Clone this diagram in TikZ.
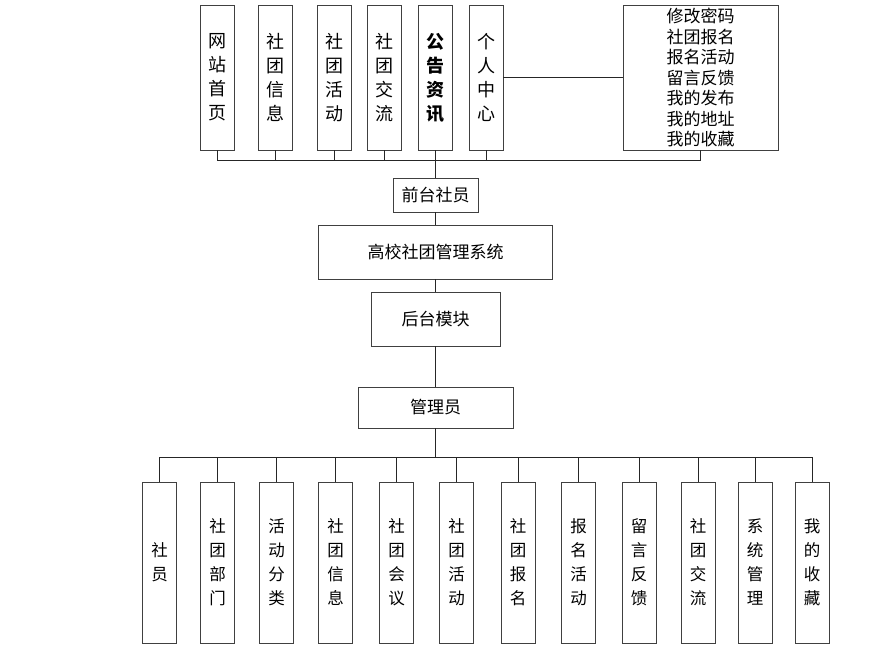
\documentclass[tikz,border=0pt]{standalone}
\usepackage{fontspec}
\newfontfamily\cjk{Noto Sans CJK SC}
\usepackage{tikz}

\tikzset{
  box/.style={draw=black!75, line width=0.8pt, fill=white, inner sep=0pt, align=center},
  vbox/.style={box, minimum width=34pt, text width=34pt,
    font=\cjk\fontsize{16.5}{24}\selectfont},
  link/.style={line width=0.8pt, black!85}
}

\begin{document}
\begin{tikzpicture}[x=1pt, y=-1pt, font=\cjk\fontsize{17}{20}\selectfont]
  \useasboundingbox (0,0) rectangle (880,653);
  % front part
  \foreach \i/\x/\t in {1/217/{网\\站\\首\\页}, 2/275/{社\\团\\信\\息},
      3/334/{社\\团\\活\\动}, 4/384.5/{社\\团\\交\\流},
      5/435/{\bfseries 公\\\bfseries 告\\\bfseries 资\\\bfseries 讯}, 6/486/{个\\人\\中\\心}}
    \node[vbox, minimum height=145pt, font=\cjk\fontsize{18}{24}\selectfont] (t\i) at (\x,77.5) {\t};
  \node[box, minimum width=155pt, minimum height=145pt,
    font=\cjk\fontsize{17}{20.5}\selectfont] (me) at (700.5,77.5)
    {修改密码\\社团报名\\报名活动\\留言反馈\\我的发布\\我的地址\\我的收藏};

  \node[box, minimum width=85pt, minimum height=34pt] (qt) at (435.5,195) {前台社员};
  \node[box, minimum width=234pt, minimum height=54pt] (sys) at (435.5,252) {高校社团管理系统};
  \node[box, minimum width=129pt, minimum height=54pt] (ht) at (435.5,319) {后台模块};
  \node[box, minimum width=155pt, minimum height=41pt] (gly) at (435.5,407.5) {管理员};

  % back part
  \foreach \i/\x/\t in {1/159.5/{社\\员}, 2/217.5/{社\\团\\部\\门}, 3/276.5/{活\\动\\分\\类},
      4/335.5/{社\\团\\信\\息}, 5/396.5/{社\\团\\会\\议}, 6/456.5/{社\\团\\活\\动},
      7/518/{社\\团\\报\\名}, 8/578.5/{报\\名\\活\\动}, 9/639/{留\\言\\反\\馈},
      10/698/{社\\团\\交\\流}, 11/755/{系\\统\\管\\理}, 12/812/{我\\的\\收\\藏}}
    \node[vbox, minimum height=161pt] (b\i) at (\x,562.5) {\t};

  \coordinate (fbus) at (435.5,160);
  \coordinate (bbus) at (435.5,457);
  \foreach \i in {1,...,6}
    \draw[link] (t\i.south) |- (fbus);
  \draw[link] (me.south) |- (fbus);
  \draw[link] (t6.east) -- (me.west);
  \draw[link, line width=1.6pt] (fbus) -- (qt.north);
  \draw[link] (qt) -- (sys);
  \draw[link] (sys) -- (ht);
  \draw[link] (ht) -- (gly);
  \draw[link] (gly) -- (bbus);
  \foreach \i in {1,...,12}
    \draw[link] (bbus) -| (b\i.north);
\end{tikzpicture}
\end{document}
